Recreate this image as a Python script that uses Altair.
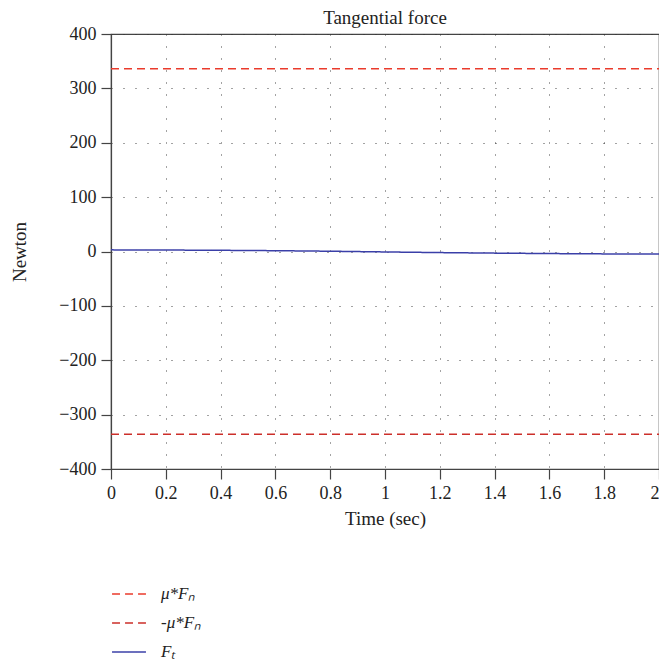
import altair as alt
import pandas as pd

# Data
t_bounds = [0.0, 2.0]
mu_fn = [336.0, 336.0]
neg_mu_fn = [-336.0, -336.0]
t_ft = [0.0, 0.2, 0.4, 0.6, 0.8, 1.0, 1.2, 1.4, 1.6, 1.8, 2.0]
ft = [3.0, 2.7, 2.2, 1.5, 0.5, -0.8, -2.0, -3.0, -3.8, -4.4, -4.8]

series_names = ["μ*Fₙ", "-μ*Fₙ", "Fₜ"]
series_colors = ["#ea3b2c", "#cc2f2a", "#3a3fa8"]
series_dash = [[8, 5], [8, 5], [1, 0]]

x_ticks = [0, 0.2, 0.4, 0.6, 0.8, 1.0, 1.2, 1.4, 1.6, 1.8, 2.0]
y_ticks = [-400, -300, -200, -100, 0, 100, 200, 300, 400]

rows = []
for x, y in zip(t_bounds, mu_fn):
    rows.append({"t": x, "v": y, "s": series_names[0]})
for x, y in zip(t_bounds, neg_mu_fn):
    rows.append({"t": x, "v": y, "s": series_names[1]})
for x, y in zip(t_ft, ft):
    rows.append({"t": x, "v": y, "s": series_names[2]})
df = pd.DataFrame(rows)

FONT = "Liberation Serif"
W, H = 548, 435

legend = alt.Legend(
    title=None,
    orient="none",
    legendX=0,
    legendY=542,
    direction="vertical",
    symbolType="stroke",
    symbolSize=1150,
    symbolStrokeWidth=1.5,
    labelFont=FONT,
    labelFontSize=17,
    labelFontStyle="italic",
    labelColor="#222",
    labelOffset=14,
    rowPadding=3,
)

chart = alt.Chart(df).mark_line(strokeWidth=1.5, clip=True).encode(
    x=alt.X(
        "t:Q",
        title="Time (sec)",
        scale=alt.Scale(domain=[0, 2], nice=False),
        axis=alt.Axis(
            values=x_ticks,
            format="~g",
            labelAlign=alt.ExprRef(expr="datum.value == 2 ? 'right' : 'center'"),
            titleX=W / 2,
            titleY=49,
            titleBaseline="middle",
            titleAlign="center",
        ),
    ),
    y=alt.Y(
        "v:Q",
        title="Newton",
        scale=alt.Scale(domain=[-400, 400], nice=False),
        axis=alt.Axis(
            values=y_ticks,
            titleX=-92,
            titleY=H / 2,
            titleBaseline="middle",
            titleAlign="center",
        ),
    ),
    color=alt.Color(
        "s:N",
        scale=alt.Scale(domain=series_names, range=series_colors),
        legend=legend,
    ),
    strokeDash=alt.StrokeDash(
        "s:N",
        scale=alt.Scale(domain=series_names, range=series_dash),
        legend=legend,
    ),
    order=alt.Order("t:Q"),
).properties(
    width=W,
    height=H,
    title=alt.TitleParams(
        "Tangential force",
        font=FONT,
        fontSize=19,
        fontWeight="normal",
        color="#222",
        offset=-3,
    ),
    autosize=alt.AutoSizeParams(type="none"),
    padding={"left": 103, "top": 26, "right": 0, "bottom": 194},
).configure_view(
    stroke="#444", strokeWidth=1.2
).configure_axis(
    labelFont=FONT,
    labelFontSize=18,
    labelColor="#222",
    titleFont=FONT,
    titleFontSize=19,
    titleFontWeight="normal",
    titleColor="#222",
    domainColor="#444",
    domainWidth=1.2,
    tickColor="#444",
    tickSize=10,
    tickWidth=1.2,
    labelPadding=5,
    grid=True,
    gridColor="#333",
    gridDash=[1, 11],
    gridWidth=1,
    gridOpacity=0.9,
)

chart.save("out.html", embed_options={"renderer": "svg", "actions": False})
